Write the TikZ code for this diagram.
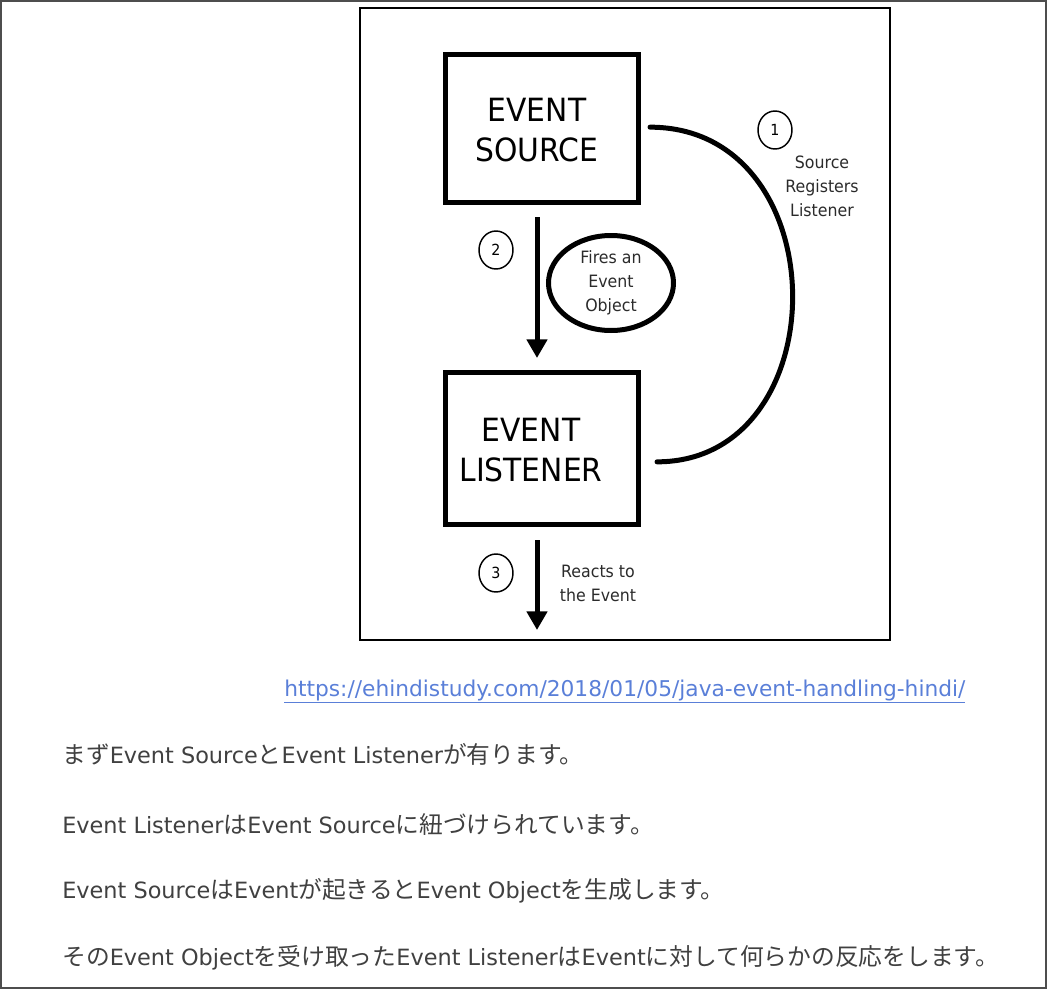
\documentclass[tikz,border=0pt]{standalone}
\usepackage{fontspec}
\setmainfont{DejaVu Sans}
\newfontfamily\dg{DejaVu Sans}[FakeStretch=0.93]
\newfontfamily\jpf{Noto Sans CJK JP}[Scale=1.06]
\usetikzlibrary{shapes.geometric,arrows.meta}
\definecolor{txtgray}{HTML}{404040}
\definecolor{lblgray}{HTML}{2B2B2B}
\definecolor{linkblue}{HTML}{5A7FD8}
\definecolor{bordergray}{HTML}{4D4D4D}
\newcommand\J[1]{{\jpf #1}}
\tikzset{
  bigbox/.style={draw, line width=3.75pt, minimum width=144.75pt, inner sep=0pt},
  bigtext/.style={font=\dg\fontsize{24}{30}\selectfont, align=center, inner sep=0pt},
  numc/.style={draw, ellipse, line width=1.1pt, minimum width=25.5pt, minimum height=28.5pt, inner sep=0pt, font=\dg\fontsize{11.5}{13}\selectfont},
  lbl/.style={font=\dg\fontsize{12.75}{18}\selectfont, align=center, text=lblgray, inner sep=0pt},
  arr/.style={line width=3.75pt, -{Triangle[length=14pt,width=15pt]}},
  jline/.style={anchor=base west, inner sep=0pt, text=txtgray, font=\fontsize{16.8}{20}\selectfont},
}
\begin{document}
\begin{tikzpicture}[x=0.75pt,y=-0.75pt]
\useasboundingbox (0,0) rectangle (1047,989);
% outer border
\draw[bordergray, line width=1.5pt] (1,1) rectangle (1046,988);
% inner frame
\draw[line width=1.2pt] (360,8) rectangle (890,640);
% boxes
\node[bigbox, minimum height=111pt] (src) at (542,128.5) {};
\node[bigbox, minimum height=114pt] (lst) at (542,448.5) {};
\node[bigtext] (srcT) at (537,130) {EVENT\\SOURCE};
\node[bigtext] (lstT) at (531,450) {EVENT\\LISTENER};
% ellipse
\node[draw, ellipse, line width=3.75pt, minimum width=93.75pt, minimum height=71.25pt, inner sep=0pt,
      font=\dg\fontsize{12.75}{18}\selectfont, align=center, text=lblgray] (fire) at (611,283) {Fires an\\Event\\Object};
% number circles
\node[numc] (c1) at (775,130) {1};
\node[numc] (c2) at (496,250) {2};
\node[numc] (c3) at (496,573) {3};
% labels
\node[lbl] (lab1) at (822,186) {Source\\Registers\\Listener};
\node[lbl] (lab3) at (598,583) {Reacts to\\the Event};
% arrows
\draw[arr] ([xshift=-3.75pt,yshift=-9pt]src.south) -- ([xshift=-3.75pt,yshift=9pt]lst.north);
\coordinate (out) at (537,630);
\draw[arr] ([xshift=-3.75pt,yshift=-9.75pt]lst.south) -- (out);
% registration arc
\coordinate (arcS) at ([xshift=6.75pt,yshift=1pt]src.east);
\coordinate (arcE) at ([xshift=12pt,yshift=-10pt]lst.east);
\draw[line width=3.75pt, line cap=round] (arcS) .. controls +(189,0) and +(182,0) .. (arcE);
% link
\node[anchor=base west, inner sep=0pt, text=linkblue, font=\fontsize{16.3}{20}\selectfont] (url) at (284,696)
  {\underline{https://ehindistudy.com/2018/01/05/java-event-handling-hindi/}};
% japanese text
\node[jline] (l1) at (62,763) {\J{まず}Event Source\J{と}Event Listener\J{が有ります。}};
\node[jline] (l2) at (62,833) {Event Listener\J{は}Event Source\J{に紐づけられています。}};
\node[jline] (l3) at (62,898) {Event Source\J{は}Event\J{が起きると}Event Object\J{を生成します。}};
\node[jline] (l4) at (62,965) {\J{その}Event Object\J{を受け取った}Event Listener\J{は}Event\J{に対して何らかの反応をします。}};
\end{tikzpicture}
\end{document}
